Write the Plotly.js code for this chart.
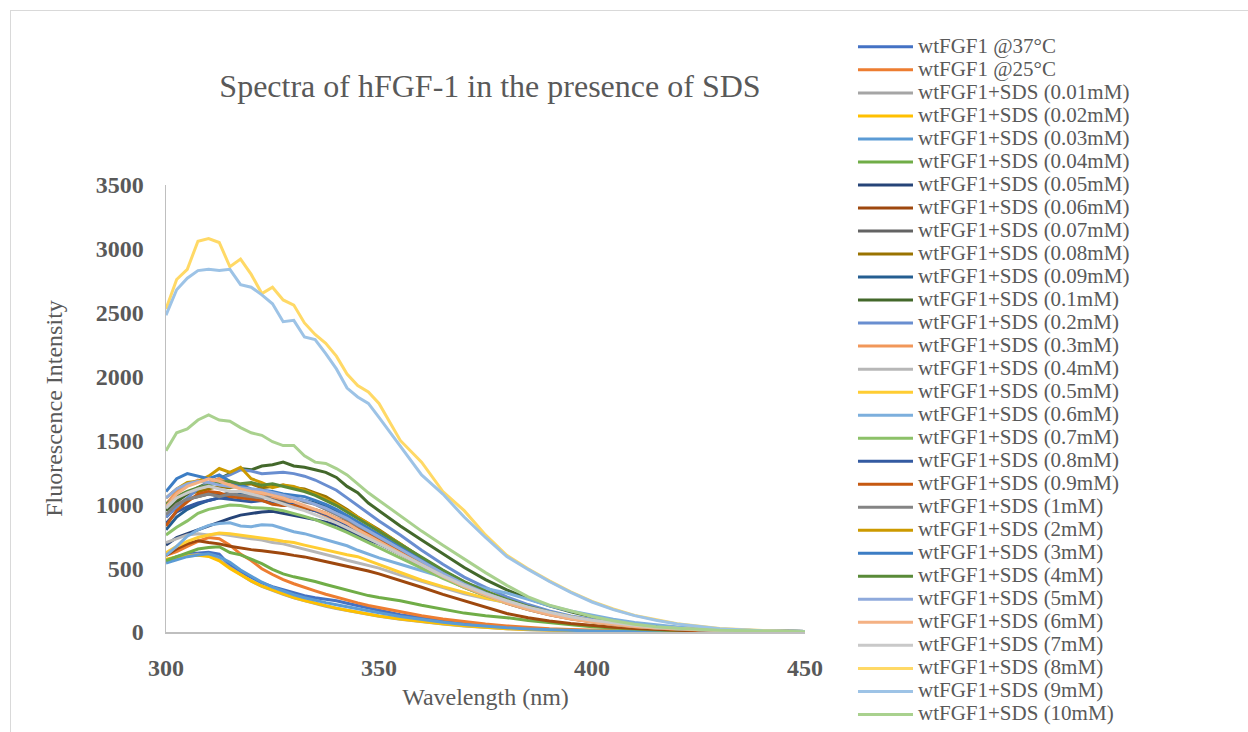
<!DOCTYPE html>
<html><head><meta charset="utf-8">
<script src="https://cdn.plot.ly/plotly-3.0.1.min.js"></script>
<style>
html,body{margin:0;padding:0;background:#fff;overflow:hidden;width:1248px;height:732px;}
#frame{position:absolute;left:10px;top:10px;border:1px solid #d9d9d9;width:1260px;height:760px;}
#chart{width:1260px;height:760px;}
</style></head><body>
<div id="frame"><div id="chart"></div></div>
<script>
const wavelength = [300,302.5,305,307.5,310,312.5,315,317.5,320,322.5,325,327.5,330,332.5,335,337.5,340,342.5,345,347.5,350,355,360,365,370,375,380,385,390,395,400,405,410,415,420,430,440,450];

const seriesNames = ["wtFGF1 @37°C","wtFGF1 @25°C","wtFGF1+SDS (0.01mM)","wtFGF1+SDS (0.02mM)","wtFGF1+SDS (0.03mM)","wtFGF1+SDS (0.04mM)","wtFGF1+SDS (0.05mM)","wtFGF1+SDS (0.06mM)","wtFGF1+SDS (0.07mM)","wtFGF1+SDS (0.08mM)","wtFGF1+SDS (0.09mM)","wtFGF1+SDS (0.1mM)","wtFGF1+SDS (0.2mM)","wtFGF1+SDS (0.3mM)","wtFGF1+SDS (0.4mM)","wtFGF1+SDS (0.5mM)","wtFGF1+SDS (0.6mM)","wtFGF1+SDS (0.7mM)","wtFGF1+SDS (0.8mM)","wtFGF1+SDS (0.9mM)","wtFGF1+SDS (1mM)","wtFGF1+SDS (2mM)","wtFGF1+SDS (3mM)","wtFGF1+SDS (4mM)","wtFGF1+SDS (5mM)","wtFGF1+SDS (6mM)","wtFGF1+SDS (7mM)","wtFGF1+SDS (8mM)","wtFGF1+SDS (9mM)","wtFGF1+SDS (10mM)"];

const seriesColors = ["#4472C4","#ED7D31","#A5A5A5","#FFC000","#5B9BD5","#70AD47","#264478","#9E480E","#636363","#997300","#255E91","#43682B","#698ED0","#F1975A","#B7B7B7","#FFCD33","#7CAFDD","#8CC168","#335AA1","#C65911","#848484","#CC9A00","#3C7DC4","#598A38","#8FAADC","#F4B183","#C9C9C9","#FFD966","#9DC3E6","#A9D18E"];

const wt37 = [560,590,610,620,625,610,520,470,425,385,355,330,310,285,268,256,245,225,205,188,170, 135,110,88,68,50,36,26,18,12,8,5,3,2,1, 1,0,0];
const wt25 = [600,630,670,710,740,730,680,610,560,495,450,410,378,348,322,296,272,252,228,208,192, 158,128,102,80,62,48,36,26,19,13,9,6,4,3, 1,0,0];
const sds001 = [550,578,598,608,600,565,505,448,398,358,325,295,268,244,222,202,184,168,152,138,124, 100,80,62,47,35,25,18,13,9,6,4,3,2,1, 0,0,0];
const sds002 = [570,588,595,600,592,558,498,448,400,360,328,298,270,247,225,205,187,170,154,140,126, 102,82,64,48,36,26,19,14,10,7,5,3,2,1, 0,0,0];
const sds003 = [540,568,590,602,612,588,545,485,435,390,352,320,292,268,248,230,214,197,180,164,150, 122,98,77,59,44,33,24,17,12,8,5,3,2,1, 0,0,0];
const sds004 = [560,590,625,650,662,668,622,604,570,535,490,455,432,415,395,372,350,330,305,285,270, 245,210,180,148,128,112,90,72,55,42,32,23,16,11, 5,2,1];
const sds005 = [680,740,770,800,835,860,890,915,930,940,945,930,915,895,880,860,840,800,760,720,690, 610,520,440,360,295,235,185,145,112,85,64,48,36,26, 13,6,3];
const sds006 = [600,650,690,715,700,690,672,656,645,636,626,614,600,588,570,552,538,520,502,478,455, 405,350,295,245,195,145,112,86,66,50,37,27,19,13, 7,3,1];
const sds007 = [900,980,1040,1060,1080,1070,1090,1060,1050,1070,1040,1020,1000,980,950,920,880,840,790,750,710, 620,520,430,350,285,225,175,135,103,78,58,43,32,23, 12,6,3];
const sds008 = [1000,1040,1080,1100,1120,1140,1130,1150,1160,1130,1140,1150,1130,1120,1090,1060,1010,960,900,850,800, 690,580,480,390,315,250,195,150,115,87,65,48,35,26, 13,6,3];
const sds009 = [800,900,960,1000,1030,1050,1060,1080,1070,1060,1080,1070,1050,1030,1010,980,950,910,860,810,760, 660,560,460,380,305,240,190,148,113,86,64,48,35,25, 13,6,3];
const sds01 = [950,1020,1080,1130,1170,1200,1240,1280,1270,1300,1310,1330,1300,1290,1270,1250,1210,1140,1090,1010,950, 830,720,610,505,410,330,262,205,158,120,90,66,48,35, 18,8,3];
const sds02 = [900,980,1050,1120,1170,1200,1230,1270,1260,1240,1245,1250,1240,1220,1190,1150,1110,1050,990,930,870, 760,640,530,430,350,275,215,165,125,95,70,52,38,27, 14,6,3];
const sds03 = [1000,1100,1150,1190,1170,1200,1160,1130,1100,1080,1060,1040,1010,980,950,910,870,830,780,740,700, 610,520,430,350,285,225,175,135,102,77,57,42,31,22, 11,5,2];
const sds04 = [700,730,760,770,760,770,755,745,730,720,700,690,670,650,630,608,585,562,540,520,500, 445,395,345,300,262,230,185,148,115,88,66,48,35,25, 12,6,2];
const sds05 = [620,670,710,740,760,775,770,760,745,735,725,710,700,680,660,640,620,605,590,560,530, 470,405,355,310,265,230,185,148,115,88,66,48,35,25, 12,6,2];
const sds06 = [600,670,750,800,835,850,855,830,825,840,835,810,785,770,745,720,700,675,640,610,580, 530,480,430,380,340,305,255,205,165,130,100,75,55,40, 20,9,4];
const sds07 = [760,820,870,930,960,980,995,990,975,970,965,950,930,905,880,850,815,780,740,700,660, 580,500,420,350,285,230,180,140,107,81,61,45,33,24, 12,6,2];
const sds08 = [850,940,980,1010,1030,1050,1040,1030,1020,1030,1010,990,1000,970,950,920,880,840,800,760,720, 630,540,450,370,300,240,190,147,112,85,63,47,34,25, 12,6,2];
const sds09 = [830,950,1020,1080,1100,1090,1060,1050,1040,1030,1000,990,990,970,960,930,890,860,820,770,730, 640,550,460,375,300,240,188,145,110,83,62,46,34,24, 12,6,2];
const sds1 = [920,1000,1040,1060,1080,1060,1080,1070,1060,1050,1070,1060,1050,1020,1000,960,920,880,830,790,740, 650,550,460,375,305,245,192,150,114,86,64,47,35,25, 12,6,2];
const sds2 = [1050,1120,1170,1180,1220,1280,1250,1290,1200,1170,1130,1150,1140,1110,1080,1040,1000,950,900,850,790, 690,580,480,390,315,250,195,150,115,87,65,48,35,25, 12,6,2];
const sds3 = [1100,1200,1240,1220,1200,1230,1180,1150,1120,1110,1100,1080,1070,1060,1030,1000,960,910,860,810,760, 660,560,465,380,308,245,192,148,113,86,64,47,34,25, 12,6,2];
const sds4 = [1000,1060,1100,1130,1150,1170,1180,1160,1170,1150,1160,1140,1120,1100,1070,1030,990,940,890,840,790, 690,585,485,395,320,255,200,155,118,89,66,49,36,26, 13,6,2];
const sds5 = [1050,1120,1160,1180,1170,1150,1140,1130,1120,1110,1090,1070,1050,1030,1000,970,930,890,840,790,745, 650,555,460,375,305,243,190,147,112,85,63,47,34,25, 12,6,2];
const sds6 = [980,1080,1140,1170,1200,1180,1150,1120,1100,1090,1070,1050,1020,990,960,930,890,850,800,755,710, 620,525,435,355,288,228,178,137,104,79,59,43,31,23, 11,5,2];
const sds7 = [970,1050,1090,1120,1140,1120,1100,1100,1080,1060,1030,1000,975,950,920,890,855,815,775,735,695, 610,525,440,365,300,245,195,155,120,92,70,52,38,28, 14,6,2];
const sds8 = [2530,2760,2840,3060,3080,3050,2860,2920,2800,2650,2700,2600,2560,2420,2330,2260,2160,2020,1930,1880,1790, 1500,1330,1100,950,760,600,495,400,315,240,180,130,95,65, 28,12,3];
const sds9 = [2480,2680,2770,2830,2840,2830,2840,2720,2700,2640,2570,2430,2440,2310,2290,2180,2060,1910,1840,1790,1680, 1450,1230,1080,900,740,590,490,395,310,235,175,128,92,63, 25,9,3];
const sds10 = [1420,1560,1590,1660,1700,1660,1650,1600,1560,1540,1490,1460,1460,1380,1330,1320,1280,1230,1160,1090,1030, 910,790,680,570,465,365,275,210,165,122,88,60,42,30, 14,6,2];

const seriesValues = [wt37,wt25,sds001,sds002,sds003,sds004,sds005,sds006,sds007,sds008,sds009,sds01,sds02,sds03,sds04,sds05,sds06,sds07,sds08,sds09,sds1,sds2,sds3,sds4,sds5,sds6,sds7,sds8,sds9,sds10];

const FONT = 'Liberation Serif, Times New Roman, serif';
const GREY = '#595959';

const traces = seriesValues.map((vals, i) => ({
  type: 'scatter', mode: 'lines',
  x: wavelength, y: vals,
  name: '<span style="font-size:21px">' + seriesNames[i] + '</span>',
  line: {color: seriesColors[i], width: 3},
  hoverinfo: 'skip'
}));

const axisCommon = {
  showgrid: false, zeroline: false, showline: true,
  linecolor: '#bfbfbf', linewidth: 1.5, ticks: '',
  tickfont: {family: FONT, size: 24, color: GREY, weight: 'bold'},
  fixedrange: true
};

const layout = {
  width: 1260, height: 760,
  paper_bgcolor: '#ffffff', plot_bgcolor: '#ffffff',
  margin: {l: 155, r: 466, t: 174, b: 139, autoexpand: false},
  title: {
    text: 'Spectra of hFGF-1 in the presence of SDS',
    font: {family: FONT, size: 32, color: GREY},
    xref: 'paper', x: 0.507, xanchor: 'center',
    yref: 'container', y: 0.901, yanchor: 'middle'
  },
  xaxis: Object.assign({}, axisCommon, {
    range: [300, 450], tickvals: [300, 350, 400, 450],
    ticklabelstandoff: 14,
    title: {text: 'Wavelength (nm)', font: {family: FONT, size: 24, color: GREY}, standoff: 8}
  }),
  yaxis: Object.assign({}, axisCommon, {
    range: [0, 3500], tickvals: [0,500,1000,1500,2000,2500,3000,3500],
    ticklabelstandoff: 16,
    title: {text: 'Fluorescence Intensity', font: {family: FONT, size: 24, color: GREY}, standoff: 26}
  }),
  showlegend: true,
  legend: {
    x: 1.0751, xanchor: 'left', y: 1.346, yanchor: 'top',
    font: {family: FONT, size: 15.4, color: GREY},
    itemwidth: 55, tracegroupgap: 0, bgcolor: 'rgba(0,0,0,0)', borderwidth: 0,
    maxheight: 750
  },
  hovermode: false
};

Plotly.newPlot('chart', traces, layout, {staticPlot: true, displayModeBar: false});
</script></body></html>
